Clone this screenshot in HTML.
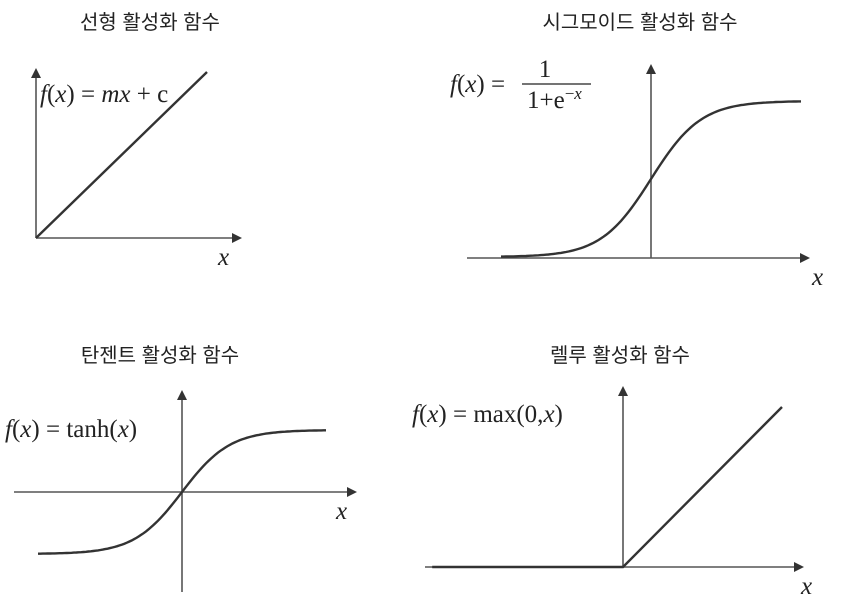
<!DOCTYPE html>
<html><head><meta charset="utf-8"><style>
html,body{margin:0;padding:0;background:#fff;}
svg{display:block;}
.t{font-family:"Liberation Sans","Noto Sans CJK KR",sans-serif;font-size:20px;fill:#222;}
.m{font-family:"Liberation Serif",serif;font-size:25px;fill:#222;}
.ax{stroke:#555;stroke-width:1.6;fill:none;}
.cv{stroke:#333;stroke-width:2.4;fill:none;}
</style></head><body>
<svg id="c" width="841" height="600" viewBox="0 0 841 600">
<defs><marker id="ar" markerWidth="10" markerHeight="10" refX="8" refY="5" orient="auto" markerUnits="userSpaceOnUse"><path d="M0,0 L10,5 L0,10 z" fill="#333"/></marker></defs>

<text class="t" x="150" y="29" text-anchor="middle">선형 활성화 함수</text>
<line class="ax" x1="36" y1="238" x2="36" y2="70" marker-end="url(#ar)"/>
<line class="ax" x1="36" y1="238" x2="240" y2="238" marker-end="url(#ar)"/>
<text class="m" x="40" y="102"><tspan font-style="italic">f</tspan>(<tspan font-style="italic">x</tspan>) = <tspan font-style="italic">mx</tspan> + c</text>
<text class="m" x="218" y="265" font-style="italic">x</text>

<text class="t" x="640" y="29" text-anchor="middle">시그모이드 활성화 함수</text>
<line class="ax" x1="651" y1="258" x2="651" y2="66" marker-end="url(#ar)"/>
<line class="ax" x1="467" y1="258" x2="808" y2="258" marker-end="url(#ar)"/>
<text class="m" x="450" y="92"><tspan font-style="italic">f</tspan>(<tspan font-style="italic">x</tspan>) =</text>
<text class="m" x="545" y="77" text-anchor="middle">1</text>
<line x1="522" y1="84" x2="591" y2="84" stroke="#222" stroke-width="1.3"/>
<text class="m" x="527" y="108">1+e<tspan font-size="17" dy="-9">−</tspan><tspan font-size="17" font-style="italic">x</tspan></text>
<text class="m" x="812" y="285" font-style="italic">x</text>

<text class="t" x="160" y="362" text-anchor="middle">탄젠트 활성화 함수</text>
<line class="ax" x1="182" y1="592" x2="182" y2="392" marker-end="url(#ar)"/>
<line class="ax" x1="14" y1="492" x2="355" y2="492" marker-end="url(#ar)"/>
<text class="m" x="5" y="437"><tspan font-style="italic">f</tspan>(<tspan font-style="italic">x</tspan>) = tanh(<tspan font-style="italic">x</tspan>)</text>
<text class="m" x="336" y="519" font-style="italic">x</text>

<text class="t" x="620" y="362" text-anchor="middle">렐루 활성화 함수</text>
<line class="ax" x1="623" y1="567" x2="623" y2="388" marker-end="url(#ar)"/>
<line class="ax" x1="425" y1="567" x2="802" y2="567" marker-end="url(#ar)"/>
<text class="m" x="412" y="422"><tspan font-style="italic">f</tspan>(<tspan font-style="italic">x</tspan>) = max(0,<tspan font-style="italic">x</tspan>)</text>
<text class="m" x="801" y="594" font-style="italic">x</text>
</svg>
<script>
// domain and output ranges for each panel
const linearDomain=[0,1], linearRange=[0,1];
const sigmoidDomain=[-6,6];
const tanhDomain=[-3,3];
const reluDomain=[-1.2,1];
const svg=document.getElementById('c');
function path(d,name){const p=document.createElementNS('http://www.w3.org/2000/svg','path');p.setAttribute('d',d);p.setAttribute('class','cv');


svg.appendChild(p);}
function plot(f,dom,sx,sy,n,name){let d='';for(let i=0;i<=n;i++){const x=dom[0]+(dom[1]-dom[0])*i/n;d+=(i?'L':'M')+sx(x).toFixed(1)+','+sy(f(x)).toFixed(1);}path(d,name);}
plot(x=>x,linearDomain,x=>36+x*171,y=>238-y*166,1,'linear-line');
plot(x=>1/(1+Math.exp(-x)),sigmoidDomain,x=>651+x*25,y=>257-y*156,120,'sigmoid-curve');
plot(x=>Math.tanh(x),tanhDomain,x=>182+x*48,y=>492-y*62,120,'tanh-curve');
// relu: kink at 0
(function(){const sx=x=>623+x*159, sy=y=>567-y*160;
const xs=[reluDomain[0],0,reluDomain[1]];
let d='';xs.forEach((x,i)=>{d+=(i?'L':'M')+sx(x).toFixed(1)+','+sy(Math.max(0,x)).toFixed(1);});
path(d,'relu-line');})();
</script>
</body></html>
